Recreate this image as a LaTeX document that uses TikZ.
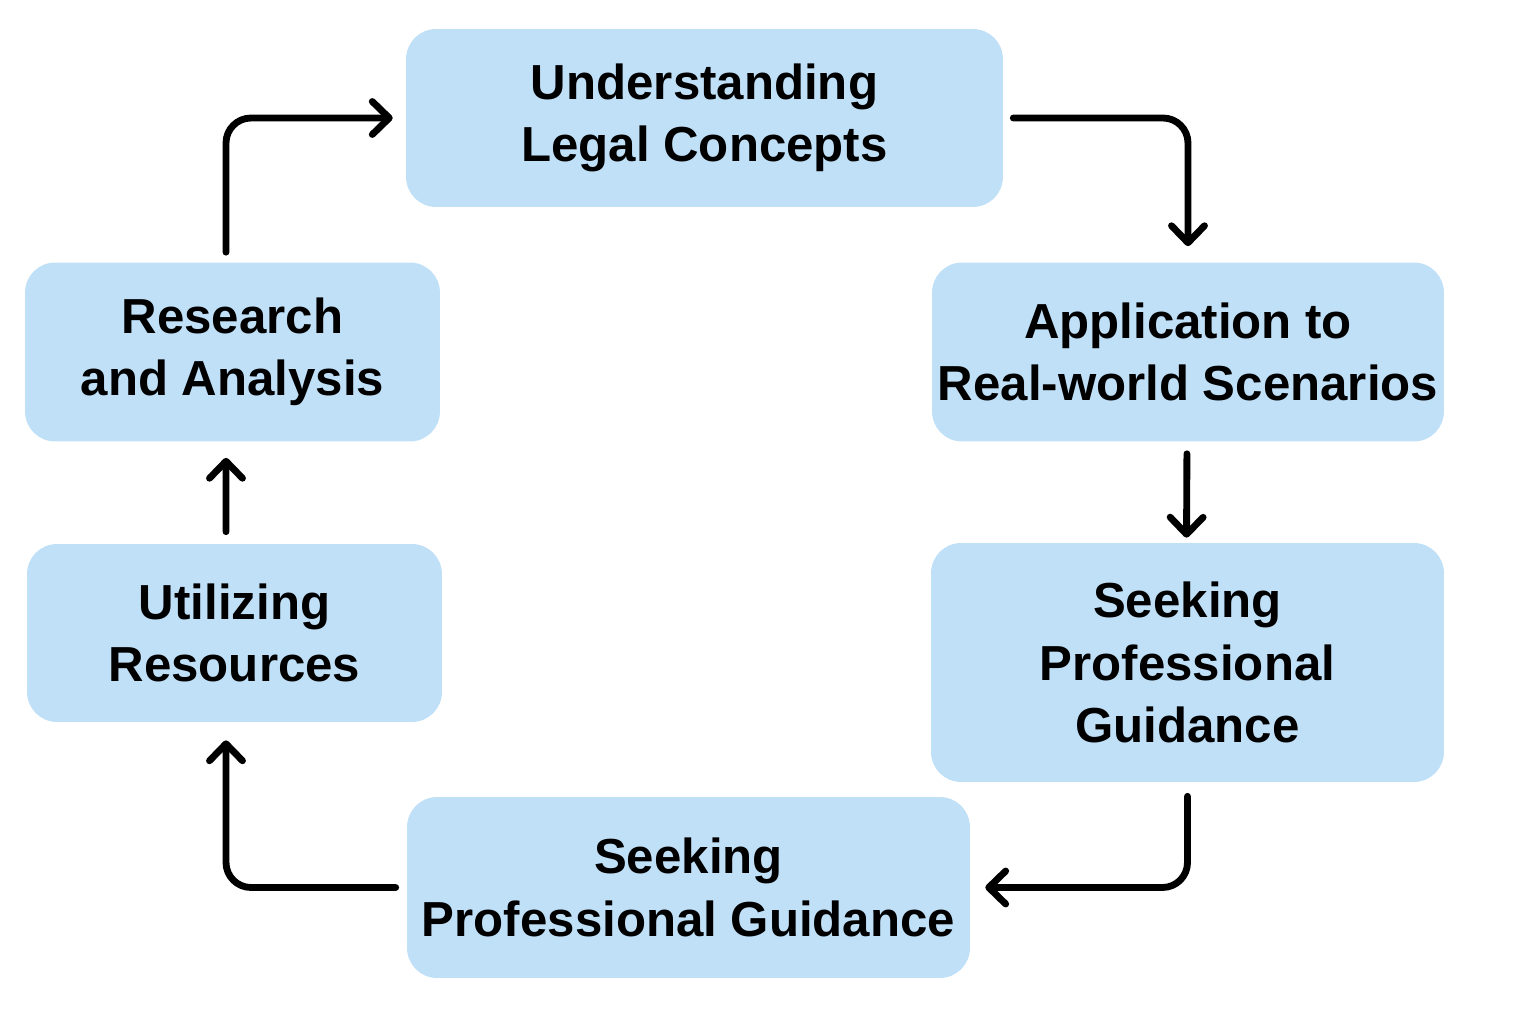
\documentclass[tikz,border=0pt]{standalone}
\usepackage{fontspec}
\setmainfont{Liberation Sans}
\usetikzlibrary{arrows.meta}
\definecolor{boxblue}{RGB}{192,224,248}
\tikzstyle{stage}=[fill=boxblue,rounded corners=0.6cm,align=center,font=\fontsize{28}{35.5}\selectfont\bfseries,inner sep=0pt]
\tikzstyle{flow}=[line width=3.9pt,rounded corners=0.5cm,line cap=round,line join=round,-{Straight Barb[length=0.34cm,width=0.66cm,line cap=round,line join=round]}]

\begin{document}
\begin{tikzpicture}[x=0.02cm,y=-0.02cm]
	\useasboundingbox (0,0) rectangle (1536,1024);
	\node(und)[stage,minimum width=11.94cm,minimum height=3.56cm] at (704.5,118){Understanding\\Legal Concepts};
	\node(app)[stage,minimum width=10.24cm,minimum height=3.58cm] at (1188,352){Application to\\Real-world Scenarios};
	\node(seek)[stage,minimum width=10.26cm,minimum height=4.78cm] at (1187.5,662.5){Seeking\\Professional\\Guidance};
	\node(bot)[stage,minimum width=11.26cm,minimum height=3.62cm] at (688.5,887.5){Seeking\\Professional Guidance};
	\node(util)[stage,minimum width=8.3cm,minimum height=3.56cm] at (234.5,633){Utilizing\\Resources};
	\node(res)[stage,minimum width=8.3cm,minimum height=3.58cm] at (232.5,352){Research\\and Analysis};

	\draw[flow,shorten <=0.2cm,shorten >=0.26cm] ([xshift=-0.13cm]res.north) |- (und.west);
	\draw[flow,shorten <=0.2cm,shorten >=0.32cm] (und.east) -| (app.north);
	\draw[flow,shorten <=0.24cm,shorten >=0.1cm] ([xshift=-0.02cm]app.south) -- ([xshift=-0.02cm]seek.north);
	\draw[flow,shorten <=0.28cm,shorten >=0.3cm] (seek.south) |- (bot.east);
	\draw[flow,shorten <=0.22cm,shorten >=0.36cm] (bot.west) -| ([xshift=-0.17cm]util.south);
	\draw[flow,shorten <=0.24cm,shorten >=0.32cm] ([xshift=-0.17cm]util.north) -- ([xshift=-0.13cm]res.south);
\end{tikzpicture}
\end{document}
